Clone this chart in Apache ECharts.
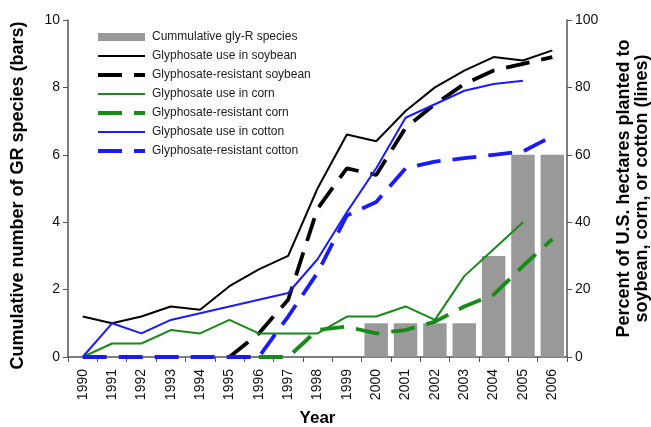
<!DOCTYPE html>
<html><head><meta charset="utf-8">
<script src="https://cdn.jsdelivr.net/npm/echarts@6/dist/echarts.min.js"></script>
<style>html,body{margin:0;padding:0;background:#fff}#c{width:651px;height:427px}</style>
</head><body><div id="c"></div>
<script>
var years = ['1990','1991','1992','1993','1994','1995','1996','1997','1998','1999','2000','2001','2002','2003','2004','2005','2006'];
var leftTicks = [0,2,4,6,8,10];
var rightTicks = [0,20,40,60,80,100];
var cumSpecies = [null,null,null,null,null,null,null,null,null,null,1,1,1,1,3,6,6];
var useSoy = [12,10,12,15,14,21,26,30,50,66,64,73,80,85,89,88,91];
var resSoy = [null,null,null,null,null,0,7,17,44,56,54,68,75,81,85,87,89];
var useCorn = [0,4,4,8,7,11,7,7,7,12,12,15,11,24,32,40,null];
var resCorn = [null,null,null,null,null,null,0,0,8,9,7,8,10.5,15,18.5,27,35];
var useCotton = [0,10,7,11,13,15,17,19,29,43,56,71,75,79,81,82,null];
var resCotton = [0,0,0,0,0,0,0,12,25,42,46,56,58,59,60,61,65.5];

var font = 'Liberation Sans, Arial, sans-serif';
var chart = echarts.init(document.getElementById('c'));
var dash = [24,12];
function line(name, data, color, w, dashed){
  return {name:name, type:'line', yAxisIndex:1, data:data, symbol:'none', connectNulls:false,
    lineStyle:{color:color, width:w, type: dashed ? dash : 'solid'}, itemStyle:{color:color}, z:3};
}
function li(n, w){ return {name:n, itemStyle:{opacity:0}, lineStyle:{width:w}}; }
chart.setOption({
  animation:false,
  textStyle:{fontFamily:font},
  grid:{left:68, right:84, top:20, bottom:70, containLabel:false, outerBoundsMode:'none'},
  legend:{orient:'vertical', left:91, top:26, itemWidth:47, itemHeight:8, itemGap:7,
    textStyle:{fontSize:12, color:'#222', fontFamily:font, padding:[0,0,0,2]},
    data:[{name:'Cummulative gly-R species', icon:'rect'},
      li('Glyphosate use in soybean',2),li('Glyphosate-resistant soybean',4),
      li('Glyphosate use in corn',2),li('Glyphosate-resistant corn',4),
      li('Glyphosate use in cotton',2),li('Glyphosate-resistant cotton',4)]},
  xAxis:{type:'category', data:years, boundaryGap:true,
    name:'Year', nameLocation:'middle', nameGap:53, nameMoveOverlap:false,
    nameTextStyle:{fontSize:17, fontWeight:'bold', color:'#000'},
    axisLine:{lineStyle:{color:'#555', width:1.5}},
    axisTick:{show:true, length:5, lineStyle:{color:'#555'}},
    axisLabel:{rotate:90, fontSize:14, color:'#111', margin:12}},
  yAxis:[
    {type:'value', min:0, max:10, interval:2, position:'left',
     name:'Cumulative number of GR species (bars)', nameLocation:'middle', nameGap:41, nameMoveOverlap:false,
     nameTextStyle:{fontSize:18, fontWeight:'bold', color:'#000', padding:[0,14,0,0]},
     axisLine:{show:true, lineStyle:{color:'#555', width:1.5}},
     axisTick:{show:true, length:5, lineStyle:{color:'#555'}},
     axisLabel:{fontSize:14, color:'#111', margin:8},
     splitLine:{show:false}},
    {type:'value', min:0, max:100, interval:20, position:'right',
     name:'Percent of U.S. hectares planted to\nsoybean, corn, or cotton (lines)', nameLocation:'middle', nameGap:48, nameMoveOverlap:false,
     nameRotate:90,
     nameTextStyle:{fontSize:18, fontWeight:'bold', color:'#000', lineHeight:18},
     axisLine:{show:true, lineStyle:{color:'#555', width:1.5}},
     axisTick:{show:true, length:5, lineStyle:{color:'#555'}},
     axisLabel:{fontSize:14, color:'#111', margin:8},
     splitLine:{show:false}}
  ],
  series:[
    {name:'Cummulative gly-R species', type:'bar', yAxisIndex:0, data:cumSpecies, barCategoryGap:'20%',
     itemStyle:{color:'#999999'}, z:1},
    line('Glyphosate use in soybean', useSoy, '#000000', 2, false),
    line('Glyphosate-resistant soybean', resSoy, '#000000', 3.8, true),
    line('Glyphosate use in corn', useCorn, '#188a18', 2, false),
    line('Glyphosate-resistant corn', resCorn, '#188a18', 3.8, true),
    line('Glyphosate use in cotton', useCotton, '#1a1aff', 2, false),
    line('Glyphosate-resistant cotton', resCotton, '#1a1aff', 3.8, true)
  ]
});
</script></body></html>
